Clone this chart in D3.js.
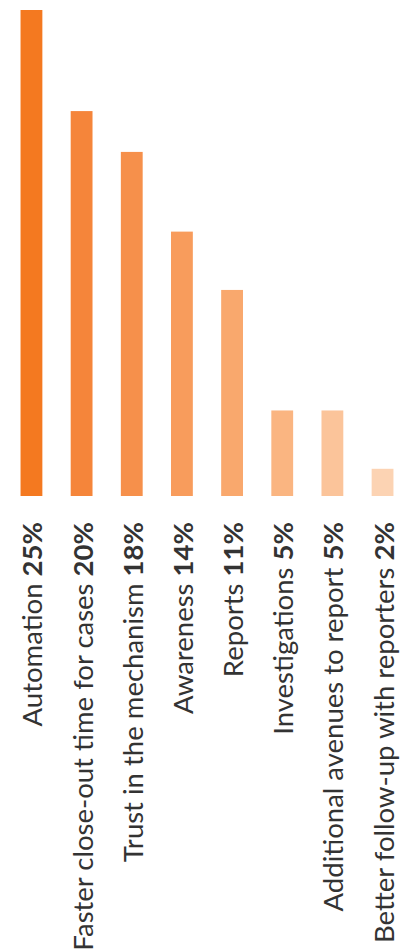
<!DOCTYPE html>
<html>
<head>
	<meta charset="utf-8">
	<script src="https://d3js.org/d3.v7.min.js"></script>
	<style>
		body { margin: 0; background: #fff; }
		.label { font-family: Lato, "Open Sans", sans-serif; font-size: 27.5px; fill: #333; }
		.label .pct { font-weight: bold; }
	</style>
</head>
<body>

	<svg width="416" height="952"></svg>
	<script>

		var categories = ["Automation", "Faster close-out time for cases", "Trust in the mechanism", "Awareness",
			"Reports", "Investigations", "Additional avenues to report", "Better follow-up with reporters"];
		var values = [25, 19.8, 17.7, 13.6, 10.6, 4.4, 4.4, 1.4];
		var pctLabels = ["25%", "20%", "18%", "14%", "11%", "5%", "5%", "2%"];
		var colors = ["#f47920", "#f5853a", "#f6904b", "#f89c5c", "#f9a86d", "#fab581", "#fbc49a", "#fcd3b3"];

		var svg = d3.select("svg"),
		margin = {top: 10, right: 10, bottom: 456, left: 8},
		width = +svg.attr("width") - margin.left - margin.right,
		height = +svg.attr("height") - margin.top - margin.bottom;

		var x = d3.scaleBand().domain(categories).range([0, width]).paddingInner(0.565).paddingOuter(0.25),
		y = d3.scaleLinear().domain([0, 25]).range([height, 0]);

		var g = svg.append("g")
		.attr("transform", "translate(" + margin.left + "," + margin.top + ")");

		g.selectAll(".bar")
		.data(categories)
		.enter().append("rect")
		.attr("class", "bar")
		.attr("x", function(d) { return x(d); })
		.attr("y", function(d, i) { return y(values[i]); })
		.attr("width", x.bandwidth())
		.attr("height", function(d, i) { return height - y(values[i]); })
		.attr("fill", function(d, i) { return colors[i]; });

		var label = g.selectAll(".label")
		.data(categories)
		.enter().append("text")
		.attr("class", "label")
		.attr("text-anchor", "end")
		.attr("transform", function(d) {
			return "translate(" + (x(d) + x.bandwidth() / 2 + 11) + "," + (height + 26) + ") rotate(-90)";
		});

		label.append("tspan").text(function(d) { return d + " "; });
		label.append("tspan").attr("class", "pct").text(function(d, i) { return pctLabels[i]; });
	</script>
</body>
</html>
